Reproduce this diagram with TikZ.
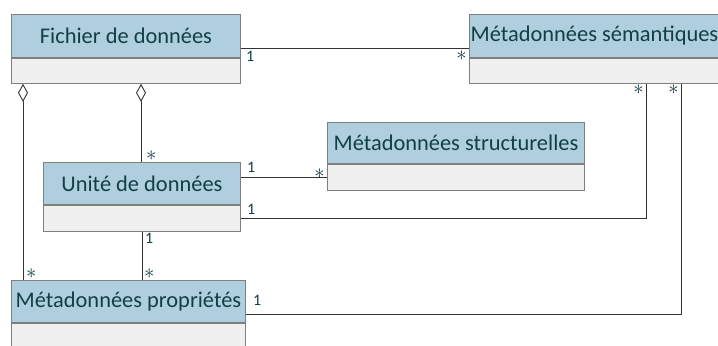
\documentclass[tikz,border=0pt]{standalone}
\usepackage{fontspec}
\setmainfont{Carlito}
\usetikzlibrary{arrows.meta}
\definecolor{hdrfill}{HTML}{AFCFDE}
\definecolor{bodyfill}{HTML}{F0F0F0}
\definecolor{frame}{HTML}{7F7F7F}
\definecolor{ink}{HTML}{123F46}
\definecolor{wire}{HTML}{333333}
\newcommand{\many}{{\fontsize{21}{21}\selectfont$\ast$}}
\tikzset{
  hdr/.style={draw=frame, fill=hdrfill, line width=0.9bp, anchor=north west,
    inner sep=0pt, text=ink, font=\fontsize{22.5}{25}\selectfont, minimum height=43bp},
  classbody/.style={draw=frame, fill=bodyfill, line width=0.9bp, anchor=north,
    inner sep=0pt, minimum height=25bp},
  assoc/.style={draw=wire, line width=0.9bp},
  agg/.style={assoc, {Diamond[open, width=10bp, length=18bp, line width=0.9bp]}-},
  mult/.style={text=ink, font=\fontsize{16}{18}\selectfont, inner sep=0pt}
}
\begin{document}
\begin{tikzpicture}[x=1bp, y=-1bp]
\clip (0,0) rectangle (718,345);
\fill[white] (0,0) rectangle (718,345);

% classes: header with name, empty body below
\node[hdr, minimum width=229bp] (fich) at (11,14) {Fichier de données};
\node[classbody, minimum width=229bp] (fichb) at (fich.south) {};

\node[hdr, minimum width=250bp] (sem) at (469,14) {Métadonnées sémantiques};
\node[classbody, minimum width=258bp, anchor=north west] (semb) at (sem.south west) {};

\node[hdr, minimum width=197bp, minimum height=42bp] (unite) at (43,162) {Unité de données};
\node[classbody, minimum width=197bp, minimum height=26bp] (uniteb) at (unite.south) {};

\node[hdr, minimum width=257bp, minimum height=41bp] (struct) at (327,122) {Métadonnées structurelles};
\node[classbody, minimum width=257bp, minimum height=26bp] (structb) at (struct.south) {};

\node[hdr, minimum width=234bp, minimum height=42bp] (prop) at (11,280) {Métadonnées propriétés};
\node[classbody, minimum width=234bp, minimum height=28bp] (propb) at (prop.south) {};

% Fichier -- Sémantiques
\draw[assoc] ([yshift=-12.5bp]fich.east) -- ([yshift=-12.5bp]fich.east -| sem.west);
\node[mult, anchor=north west] (m1) at ([xshift=5bp,yshift=-15bp]fich.east) {1};
\node[mult, anchor=north east] (m2) at ([xshift=-2bp,yshift=-15bp]sem.west) {\many};

% aggregations from Fichier
\draw[agg] ([xshift=12bp]fichb.south west) -- ([xshift=12bp]prop.north west);
\node[mult, anchor=south west] (m3) at ([xshift=15bp,yshift=1bp]prop.north west) {\many};
\draw[agg] ([xshift=130bp]fichb.south west) -- ([xshift=130bp]fichb.south west |- unite.north);
\node[mult, anchor=south west] (m4) at ([xshift=4bp,yshift=1bp]unite.north) {\many};

% Unité -- Structurelles
\draw[assoc] ([yshift=6bp]unite.east) -- ([yshift=6bp]unite.east -| struct.west);
\node[mult, anchor=south west] (m5) at ([xshift=6bp,yshift=11bp]unite.east) {1};
\node[mult, anchor=south east] (m6) at ([xshift=-2bp,yshift=5bp]unite.east -| struct.west) {\many};

% Unité -- Sémantiques
\draw[assoc] (uniteb.east) -| ([xshift=177bp]semb.south west);
\node[mult, anchor=south west] (m7) at ([xshift=6bp,yshift=4bp]uniteb.east) {1};
\node[mult, anchor=north east] (m8) at ([xshift=-2bp,yshift=-1bp]semb.south west -| 646,0) {\many};

% Unité -- Propriétés
\draw[assoc] (uniteb.south) -- (uniteb.south |- prop.north);
\node[mult, anchor=north west] (m9) at ([xshift=3bp,yshift=-1bp]uniteb.south) {1};
\node[mult, anchor=south west] (m10) at ([xshift=2bp,yshift=1bp]uniteb.south |- prop.north) {\many};

% Propriétés -- Sémantiques
\draw[assoc] ([yshift=-13bp]prop.east) -| ([xshift=212bp]semb.south west);
\node[mult, anchor=south west] (m11) at ([xshift=7bp,yshift=-4bp]prop.east) {1};
\node[mult, anchor=north east] (m12) at ([xshift=-2bp,yshift=-1bp]semb.south west -| 681,0) {\many};
\end{tikzpicture}
\end{document}
